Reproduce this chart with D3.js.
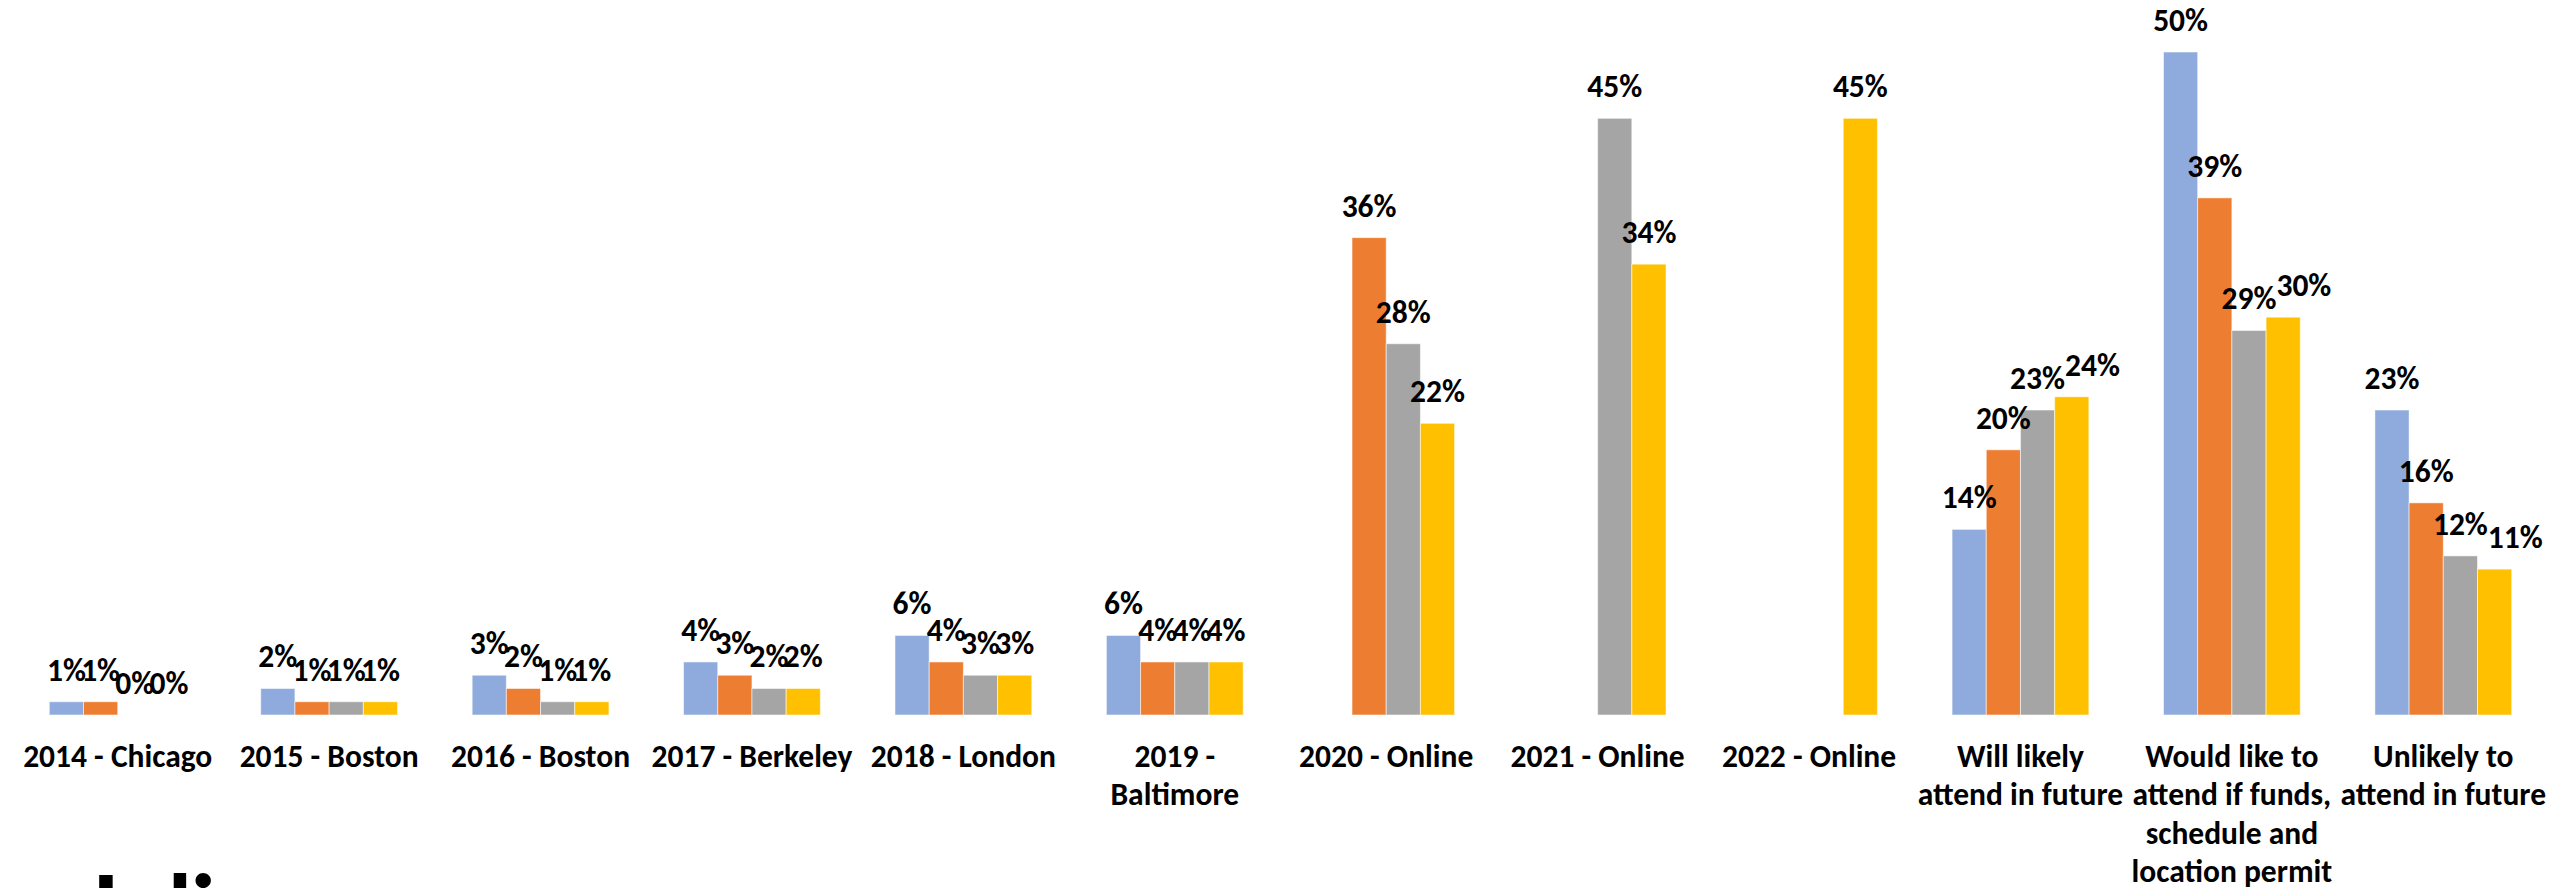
<!DOCTYPE html>
<html>
<head>
<meta charset="utf-8">
<script src="https://cdn.jsdelivr.net/npm/d3@7"></script>
<style>
  html, body { margin: 0; padding: 0; background: #ffffff; overflow: hidden; }
  svg { display: block; }
  text { font-family: "Carlito", "Lato", "Liberation Sans", sans-serif; font-weight: bold; fill: #000; }
</style>
</head>
<body>
<svg id="chart" width="2552" height="888"></svg>
<script>
// ---- Data ----
const categories = [
  "2014 - Chicago",
  "2015 - Boston",
  "2016 - Boston",
  "2017 - Berkeley",
  "2018 - London",
  "2019 -\nBaltimore",
  "2020 - Online",
  "2021 - Online",
  "2022 - Online",
  "Will likely\nattend in future",
  "Would like to\nattend if funds,\nschedule and\nlocation permit",
  "Unlikely to\nattend in future"
];
const seriesNames = ["2019 survey", "2020 survey", "2021 survey", "2022 survey"];
const survey2019 = [0.01, 0.02, 0.03, 0.04, 0.06, 0.06, null, null, null, 0.14, 0.50, 0.23];
const survey2020 = [0.01, 0.01, 0.02, 0.03, 0.04, 0.04, 0.36, null, null, 0.20, 0.39, 0.16];
const survey2021 = [0.00, 0.01, 0.01, 0.02, 0.03, 0.04, 0.28, 0.45, null, 0.23, 0.29, 0.12];
const survey2022 = [0.00, 0.01, 0.01, 0.02, 0.03, 0.04, 0.22, 0.34, 0.45, 0.24, 0.30, 0.11];
const seriesColors = ["#8FAADC", "#ED7D31", "#A5A5A5", "#FFC000"];
const footerText = "Julia";

const seriesValues = [survey2019, survey2020, survey2021, survey2022];
const rows = categories.map((c, i) => ({
  category: c,
  values: seriesNames.map((s, j) => ({ series: s, value: seriesValues[j][i] }))
}));

// ---- Layout ----
const svg = d3.select("#chart");
const baseY = 715;
const fontSize = "31.5px";
const labelGap = 21;
const textHeight = 20;

const x0 = d3.scaleBand()
  .domain(categories)
  .range([12, 2549])
  .paddingInner(0.353)
  .paddingOuter(0.1765);

const x1 = d3.scaleBand()
  .domain(seriesNames)
  .range([0, x0.bandwidth()])
  .padding(0);

const y = d3.scaleLinear()
  .domain([0, 0.5])
  .range([baseY, 52]);

const color = d3.scaleOrdinal().domain(seriesNames).range(seriesColors);
const pct = d3.format(".0%");

// ---- Bars ----
const groups = svg.append("g").attr("class", "groups")
  .selectAll("g")
  .data(rows)
  .join("g")
  .attr("transform", d => `translate(${x0(d.category)},0)`);

groups.selectAll("rect")
  .data(d => d.values.filter(v => v.value !== null && v.value > 0))
  .join("rect")
  .attr("x", d => x1(d.series))
  .attr("y", d => y(d.value))
  .attr("width", x1.bandwidth())
  .attr("height", d => y(0) - y(d.value))
  .attr("fill", d => color(d.series))
  .attr("stroke", "rgba(255,255,255,0.55)")
  .attr("stroke-width", 1);

// ---- Value labels (outside end, nudged right when they collide with the previous label) ----
groups.each(function () {
  const g = d3.select(this);
  const labels = g.selectAll("text.val")
    .data(d => d.values.filter(v => v.value !== null))
    .join("text")
    .attr("class", "val")
    .attr("x", d => x1(d.series) + x1.bandwidth() / 2)
    .attr("y", d => y(d.value) - labelGap)
    .attr("text-anchor", "middle")
    .style("font-size", fontSize)
    .text(d => pct(d.value));

  let prev = null;
  labels.each(function (d) {
    const el = this;
    const w = el.getComputedTextLength();
    let cx = +el.getAttribute("x");
    const by = +el.getAttribute("y");
    if (prev) {
      const overlapX = (prev.cx + prev.w / 2) - (cx - w / 2);
      const overlapY = Math.abs(prev.by - by) < textHeight;
      if (overlapY && overlapX > 10) {
        cx = prev.cx + prev.w / 2 + w / 2;
        el.setAttribute("x", cx);
      }
    }
    prev = { cx, w, by };
  });
});

// ---- Category axis ----
const axis = svg.append("g")
  .attr("transform", `translate(0,${baseY})`)
  .call(d3.axisBottom(x0).tickSize(0).tickPadding(0));
axis.select(".domain").remove();
axis.selectAll(".tick text")
  .attr("y", 52)
  .attr("dy", null)
  .attr("fill", "#000")
  .style("font-size", fontSize)
  .each(function (d) {
    const t = d3.select(this);
    t.text(null);
    d.split("\n").forEach((line, i) => {
      t.append("tspan")
        .attr("x", 0)
        .attr("dy", i === 0 ? 0 : 38.4)
        .text(line);
    });
  });
axis.attr("font-family", null).attr("font-size", null);

// ---- Footer title (cut off at bottom of the slide) ----
svg.append("text")
  .attr("x", 80)
  .attr("y", 940)
  .style("font-family", "Lato, Carlito, sans-serif")
  .style("font-size", "90px")
  .style("font-weight", "900")
  .attr("fill", "#111")
  .text(footerText);
</script>
</body>
</html>
